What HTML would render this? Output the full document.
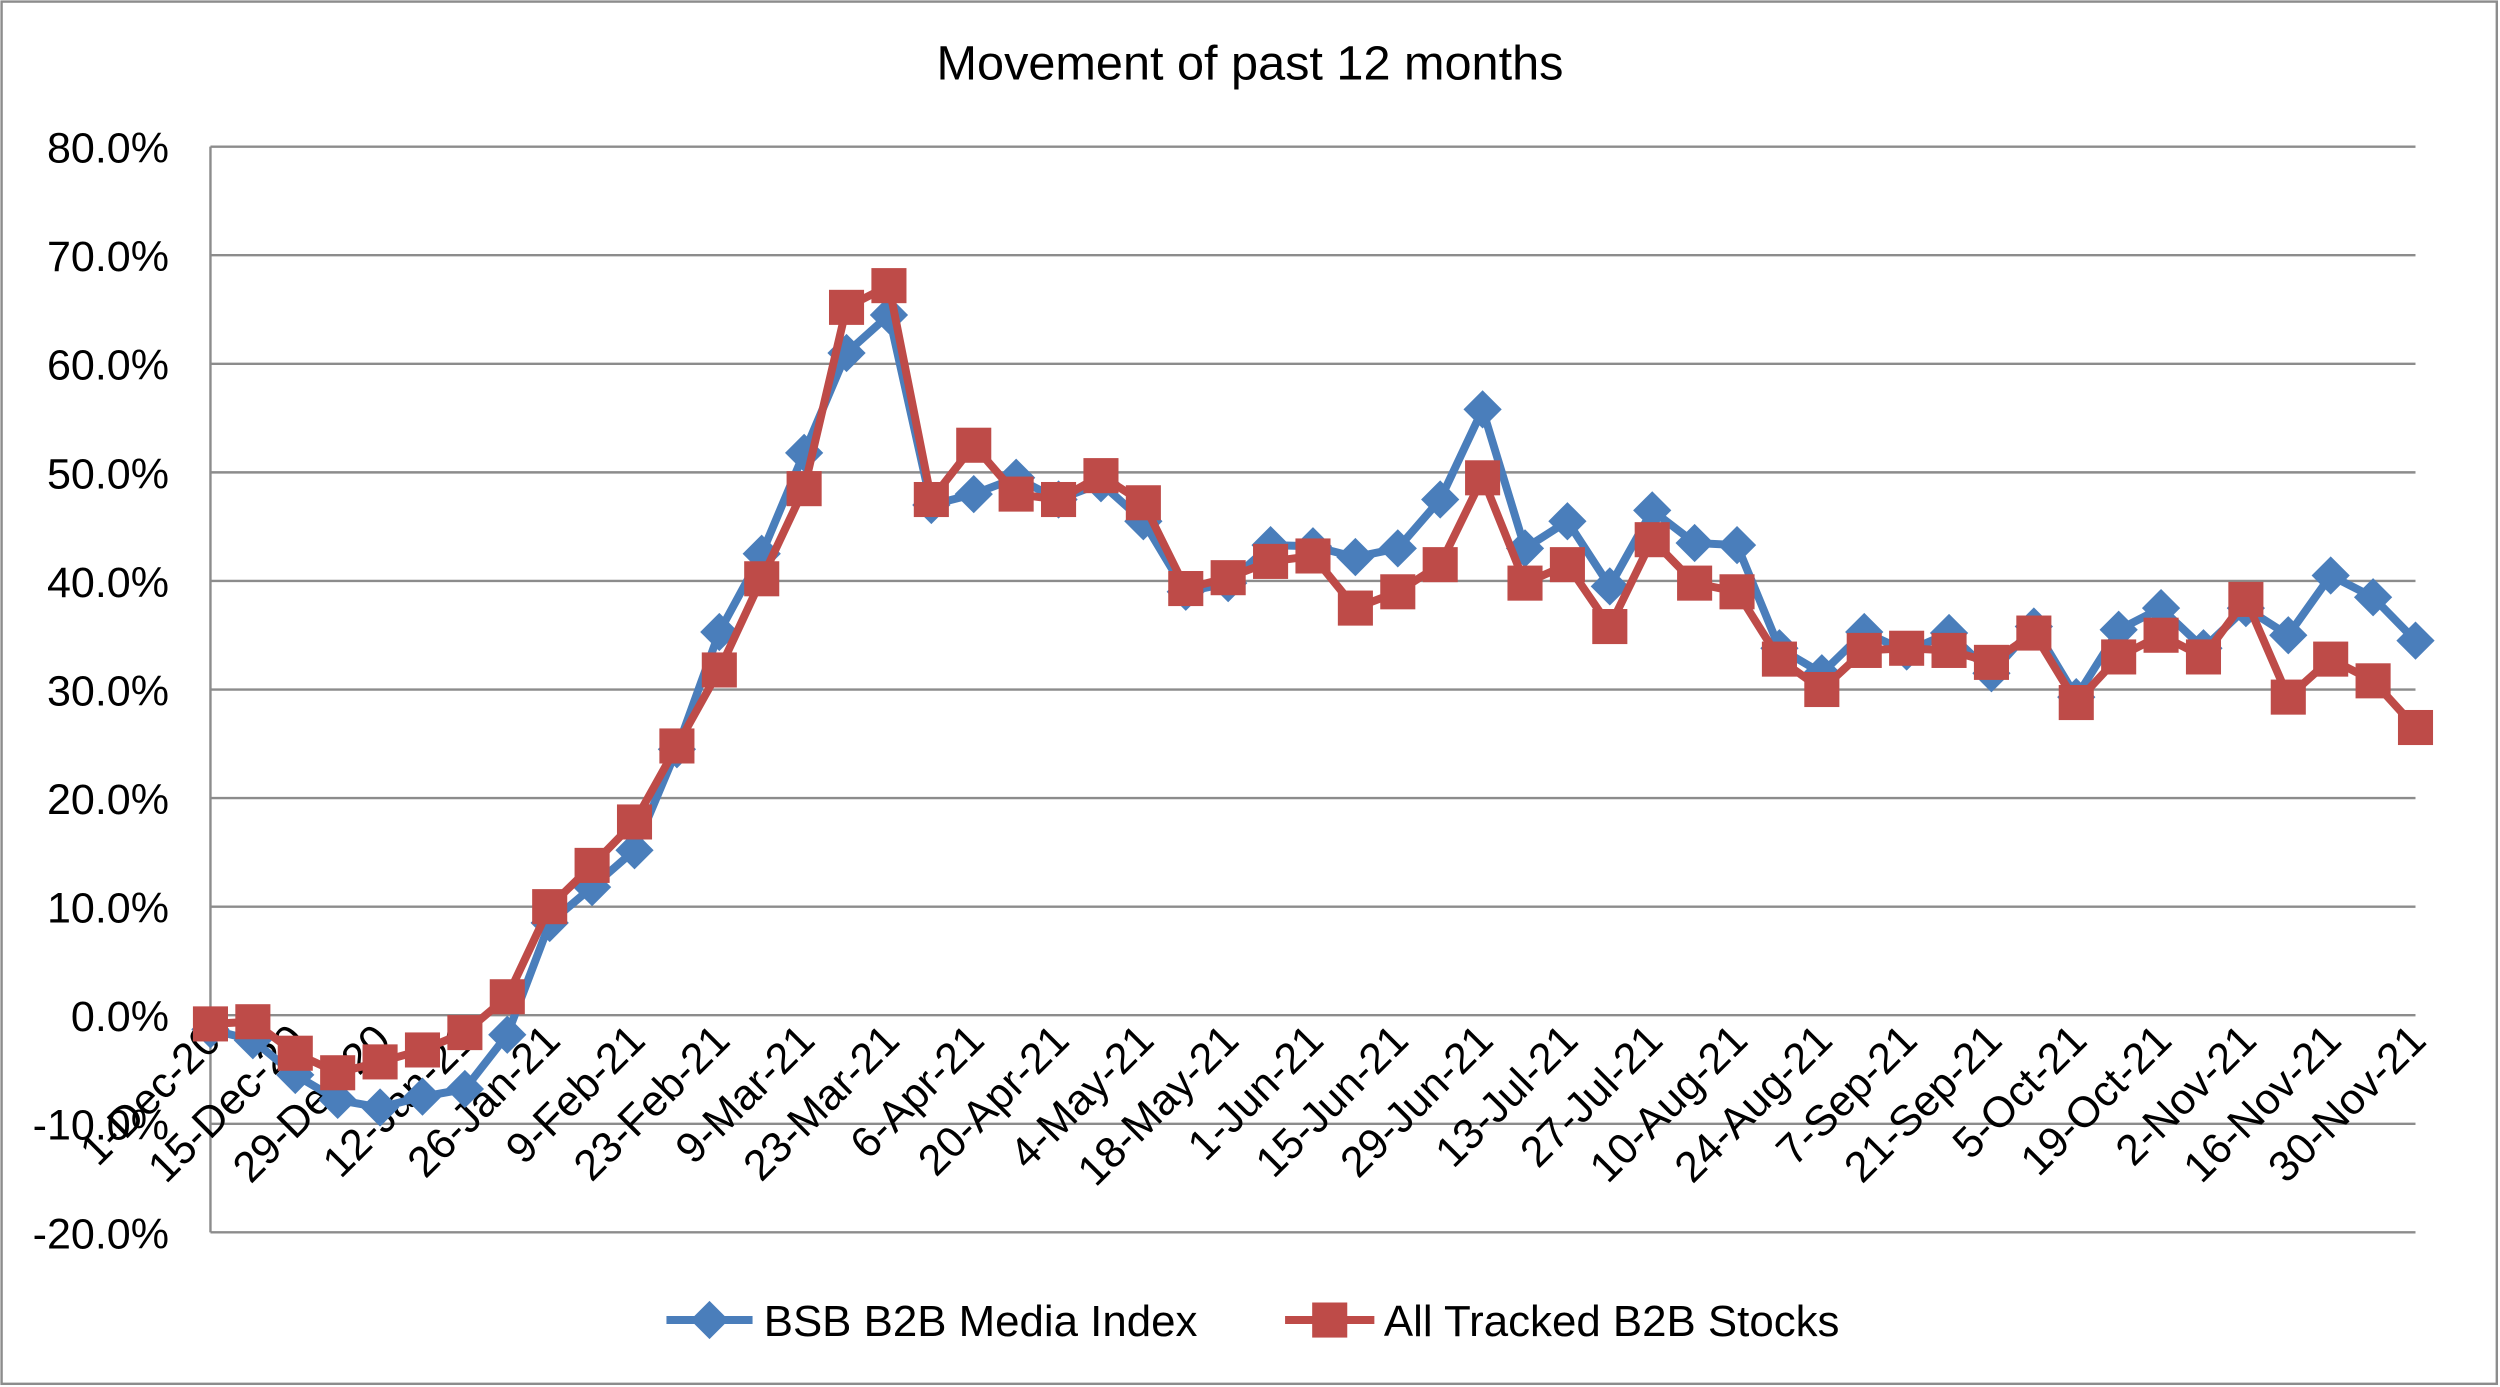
<!DOCTYPE html>
<html><head><meta charset="utf-8"><style>
html,body{margin:0;padding:0;background:#fff;}
svg{display:block;font-family:"Liberation Sans",Arial,sans-serif;}
</style></head><body>
<svg id="chart" width="2500" height="1387" viewBox="0 0 1568 870" preserveAspectRatio="none" xmlns="http://www.w3.org/2000/svg">
<rect x="1" y="1" width="1565" height="867" fill="#fff" stroke="#8c8c8c" stroke-width="1.5"/>
<text x="784" y="50" font-size="30.5" text-anchor="middle" fill="#000">Movement of past 12 months</text>
<g id="grid"></g><g id="yticks"></g><g id="xticks"></g><g id="series"></g>
<g>
<g>
<line x1="418" y1="828" x2="472" y2="828" stroke="#4a7ebb" stroke-width="5"/>
<path d="M445 816 L457 828 L445 840 L433 828 Z" fill="#4a7ebb"/>
<text x="479" y="838" font-size="27.5" fill="#000">BSB B2B Media Index</text></g>
<g>
<line x1="806" y1="828" x2="862" y2="828" stroke="#be4b48" stroke-width="5"/>
<rect x="823" y="817" width="22" height="22" fill="#be4b48"/>
<text x="868" y="838" font-size="27.5" fill="#000">All Tracked B2B Stocks</text></g>
</g>
</svg>
<script>
const categories=["1-Dec-20","8-Dec-20","15-Dec-20","22-Dec-20","29-Dec-20","5-Jan-21","12-Jan-21","19-Jan-21","26-Jan-21","2-Feb-21","9-Feb-21","16-Feb-21","23-Feb-21","2-Mar-21","9-Mar-21","16-Mar-21","23-Mar-21","30-Mar-21","6-Apr-21","13-Apr-21","20-Apr-21","27-Apr-21","4-May-21","11-May-21","18-May-21","25-May-21","1-Jun-21","8-Jun-21","15-Jun-21","22-Jun-21","29-Jun-21","6-Jul-21","13-Jul-21","20-Jul-21","27-Jul-21","3-Aug-21","10-Aug-21","17-Aug-21","24-Aug-21","31-Aug-21","7-Sep-21","14-Sep-21","21-Sep-21","28-Sep-21","5-Oct-21","12-Oct-21","19-Oct-21","26-Oct-21","2-Nov-21","9-Nov-21","16-Nov-21","23-Nov-21","30-Nov-21"];
const bsbValues=[-1.3,-2.3,-5.5,-7.8,-8.5,-7.5,-6.8,-1.8,8.5,11.8,15.2,24.5,35.3,42.5,51.8,61,64.5,47,48,49.5,47.5,49,45.5,39,39.8,43.3,43.2,42.2,43,47.5,55.8,43,45.5,39.5,46.5,43.5,43.3,33.8,31.5,35.3,33.5,35.2,31.5,35.8,29.3,35.5,37.5,33.8,37.5,35,40.5,38.5,34.5];
const allTrackedValues=[-0.8,-0.6,-3.5,-5.3,-4.3,-3.2,-1.6,1.7,10,13.8,17.8,24.8,31.8,40.2,48.5,65.2,67.2,47.5,52.5,48,47.5,49.7,47.2,39.3,40.3,41.8,42.3,37.5,39,41.5,49.5,39.8,41.5,35.8,43.8,39.8,39,32.8,30,33.6,33.8,33.6,32.5,35.2,28.8,33,35,33,38.3,29.3,32.8,30.8,26.5];
const yTickValues=[80,70,60,50,40,30,20,10,0,-10,-20];
const yTickLabels=["80.0%","70.0%","60.0%","50.0%","40.0%","30.0%","20.0%","10.0%","0.0%","-10.0%","-20.0%"];

const NS="http://www.w3.org/2000/svg";
const X0=132,X1=1515,Y80=92,Y20=773;
function xPos(i){return X0+i*(X1-X0)/(categories.length-1);}
function yPos(v){return Y20-(v+20)*(Y20-Y80)/100;}
function mk(tag,attrs,parent){const e=document.createElementNS(NS,tag);for(const k in attrs)e.setAttribute(k,attrs[k]);parent.appendChild(e);return e;}
const grid=document.getElementById('grid'),yt=document.getElementById('yticks'),xt=document.getElementById('xticks'),ser=document.getElementById('series');
yTickValues.forEach((v,i)=>{
  const l=mk('line',{x1:X0,x2:X1,y1:yPos(v),y2:yPos(v),stroke:'#8c8c8c','stroke-width':1.5},grid);
  
  
  const t=mk('text',{x:106,y:yPos(v)+10,'font-size':27,'text-anchor':'end',fill:'#000'},yt);
  t.textContent=yTickLabels[i];
  
  
});
const ax=mk('line',{x1:X0,x2:X0,y1:Y80,y2:Y20,stroke:'#8c8c8c','stroke-width':1.5},grid);


categories.forEach((c,i)=>{
  if(i%2)return;
  const x=xPos(i)+8,y=654;
  const t=mk('text',{x:x,y:y,'font-size':27,'text-anchor':'end',fill:'#000',transform:`rotate(-45 ${x} ${y})`},xt);
  t.textContent=c;
  
  
});
function drawSeries(vals,color,marker,name){
  const g=mk('g',{},ser);
  
  
  mk('polyline',{points:vals.map((v,i)=>xPos(i)+','+yPos(v)).join(' '),fill:'none',stroke:color,'stroke-width':5,'stroke-linejoin':'round'},g);
  vals.forEach((v,i)=>{
    const x=xPos(i),y=yPos(v);let m;
    if(marker==='d')m=mk('path',{d:`M${x} ${y-12} L${x+12} ${y} L${x} ${y+12} L${x-12} ${y} Z`,fill:color},g);
    else m=mk('rect',{x:x-11,y:y-11,width:22,height:22,fill:color},g);
    
    
  });
}
drawSeries(bsbValues,'#4a7ebb','d','series-bsb-b2b-media-index');
drawSeries(allTrackedValues,'#be4b48','s','series-all-tracked-b2b-stocks');
</script>
</body></html>
